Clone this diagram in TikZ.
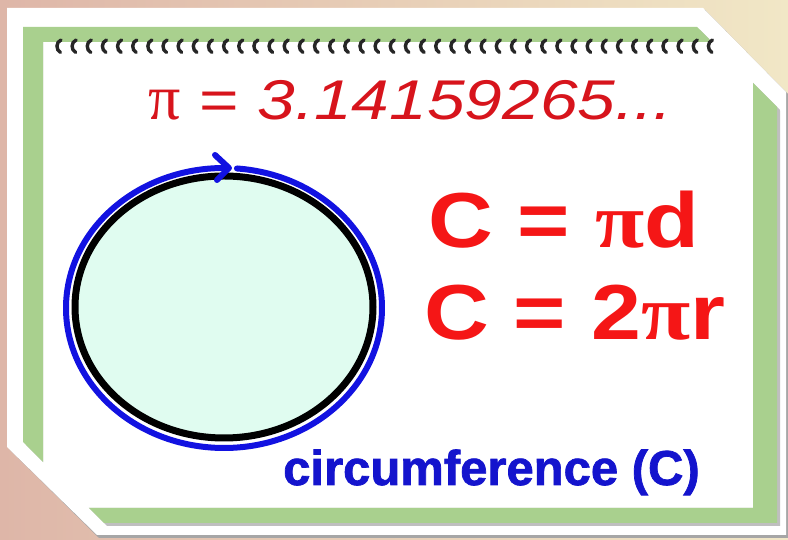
\documentclass[tikz,border=0pt]{standalone}
\usepackage{fontspec}
\usepackage{graphicx}
\setmainfont{Liberation Sans}
\newfontfamily\serifpi{Liberation Serif}
\newfontfamily\heavysans[FakeBold=1.5]{Liberation Sans Bold}
\definecolor{bgpink}{RGB}{222,182,168}
\definecolor{bgcream}{RGB}{241,231,198}
\definecolor{framegreen}{RGB}{169,208,142}
\definecolor{mint}{RGB}{224,252,240}
\definecolor{arcblue}{RGB}{18,18,225}
\definecolor{txtblue}{RGB}{20,20,205}
\definecolor{pired}{RGB}{215,20,28}
\definecolor{formred}{RGB}{245,22,22}
\begin{document}
\begin{tikzpicture}[x=1pt,y=1pt,
  ring/.style={line width=3.4pt, draw=black!85, line cap=round},
  bluearc/.style={draw=arcblue, line width=6pt, line cap=round, line join=round},
  label/.style={anchor=base west, inner sep=0pt}]
\useasboundingbox (0,0) rectangle (788,540);
% background
\shade[left color=bgpink, right color=bgcream] (0,0) rectangle (788,540);
% card shadow and card
\fill[black!35] (9,530) -- (705,530) -- (788,446) -- (788,2) -- (99,2) -- (9,91) -- cycle;
\fill[white] (7,532) -- (703,532) -- (786,448) -- (786,5) -- (97,5) -- (7,93) -- cycle;
% green frame
\begin{scope}
  \clip (0,540) -- (670,540) -- (788,422) -- (788,0) -- (121,0) -- (0,121) -- cycle;
  \fill[black!25, even odd rule] (26,14) rectangle (780,510) (43,32) rectangle (753,498);
  \fill[framegreen, even odd rule] (23,17) rectangle (777,513) (43,32) rectangle (753,498);
\end{scope}
% spiral rings
\foreach \i [evaluate=\i as \xx using 58.5+15.15*\i] in {0,...,43}
  \draw[ring] (\xx+2,487.5) .. controls (\xx-2.8,490) and (\xx-2.8,498) .. (\xx+2.5,500);
% circle
\fill[mint] (224,233) ellipse[x radius=149, y radius=131];
\draw[black, line width=7pt] (224,233) ellipse[x radius=149, y radius=131];
\draw[bluearc] (224,232) ++(85.3:158 and 140)
  arc[start angle=85.3, end angle=-271.5, x radius=158, y radius=140];
\draw[bluearc] (215,385) -- (229,372) -- (217,360);
% texts
\node[label, text=pired] (pival) at (148,420)
  {{\fontsize{64}{70}\selectfont\serifpi π}\fontsize{56}{60}\selectfont\scalebox{1.21}[1]{ = \itshape 3.14159265...}};
\node[label, text=formred] (fd) at (428,292)
  {\fontsize{78}{80}\selectfont\scalebox{1.15}[1]{\bfseries C = {\serifpi π}d}};
\node[label, text=formred] (fr) at (424,200)
  {\fontsize{78}{80}\selectfont\scalebox{1.15}[1]{\bfseries C = 2{\serifpi π}r}};
\node[label, text=txtblue] (circ) at (283,55)
  {\fontsize{49}{55}\selectfont\heavysans circumference (C)};
\end{tikzpicture}
\end{document}
